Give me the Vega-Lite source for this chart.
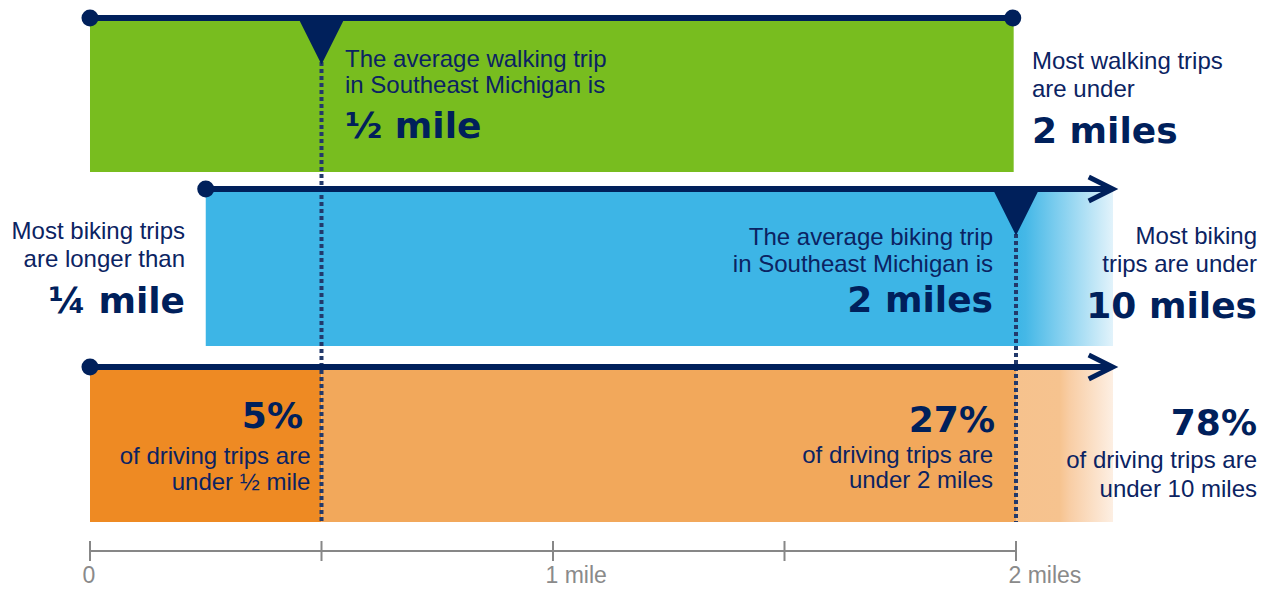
{
  "$schema": "https://vega.github.io/schema/vega-lite/v6.json",
  "width": 1268,
  "height": 551,
  "padding": {"left": 0, "top": 0, "right": 0, "bottom": 38},
  "autosize": {"type": "none"},
  "background": "white",
  "config": {"view": {"stroke": null}},
  "datasets": {
    "bars": [
      {"part": "walking", "mile": 0, "mile_end": 1.995, "level": 18, "level_end": 172},
      {"part": "biking", "mile": 0.25, "mile_end": 2.0, "level": 189, "level_end": 346},
      {"part": "driving under ½ mile", "mile": 0, "mile_end": 0.5, "level": 367, "level_end": 522},
      {"part": "driving under 2 miles", "mile": 0.5, "mile_end": 2.0, "level": 367, "level_end": 522}
    ],
    "tails": [
      {"mode": "biking", "mile": 2.0, "mile_end": 2.2095, "level": 189, "level_end": 346},
      {"mode": "driving", "mile": 2.0, "mile_end": 2.2095, "level": 367, "level_end": 522}
    ],
    "guides": [
      {"mile": 0.5, "level": 62, "level_end": 522},
      {"mile": 2.0, "level": 234, "level_end": 522}
    ],
    "tracks": [
      {"mode": "walking", "mile": 0, "mile_end": 1.995, "level": 18},
      {"mode": "biking", "mile": 0.25, "mile_end": 2.2, "level": 189},
      {"mode": "driving", "mile": 0, "mile_end": 2.2, "level": 367}
    ],
    "dots": [
      {"mode": "walking", "mile": 0, "level": 18},
      {"mode": "walking", "mile": 1.993, "level": 18},
      {"mode": "biking", "mile": 0.25, "level": 189},
      {"mode": "driving", "mile": 0, "level": 367}
    ],
    "arrows": [
      {"mode": "biking", "mile": 2.183, "level": 189},
      {"mode": "driving", "mile": 2.183, "level": 367}
    ],
    "averages": [
      {"mode": "walking", "mile": 0.5, "level": 40},
      {"mode": "biking", "mile": 2.0, "level": 211}
    ],
    "scale": [
      {"mile": 0, "mile_end": 2.0, "level": 551}
    ],
    "ticks": [
      {"mile": 0, "level": 541, "level_end": 561},
      {"mile": 0.5, "level": 541, "level_end": 561},
      {"mile": 1, "level": 541, "level_end": 561},
      {"mile": 1.5, "level": 541, "level_end": 561},
      {"mile": 2, "level": 541, "level_end": 561}
    ],
    "notes": [
      {"text": "The average walking trip", "mile": 0.5508, "level": 66.7, "role": "caption", "anchor": "start"},
      {"text": "in Southeast Michigan is", "mile": 0.5508, "level": 93.3, "role": "caption", "anchor": "start"},
      {"text": "½ mile", "mile": 0.5508, "level": 138.3, "role": "figure", "anchor": "start"},
      {"text": "Most walking trips", "mile": 2.0346, "level": 69.3, "role": "caption", "anchor": "start"},
      {"text": "are under", "mile": 2.0346, "level": 96.7, "role": "caption", "anchor": "start"},
      {"text": "2 miles", "mile": 2.0346, "level": 143.3, "role": "figure", "anchor": "start"},
      {"text": "Most biking trips", "mile": 0.2052, "level": 239.3, "role": "caption", "anchor": "end"},
      {"text": "are longer than", "mile": 0.2052, "level": 266.7, "role": "caption", "anchor": "end"},
      {"text": "¼ mile", "mile": 0.2052, "level": 313.3, "role": "figure", "anchor": "end"},
      {"text": "The average biking trip", "mile": 1.9503, "level": 245, "role": "caption", "anchor": "end"},
      {"text": "in Southeast Michigan is", "mile": 1.9503, "level": 271.7, "role": "caption", "anchor": "end"},
      {"text": "2 miles", "mile": 1.9503, "level": 311.7, "role": "figure", "anchor": "end"},
      {"text": "Most biking", "mile": 2.5205, "level": 244, "role": "caption", "anchor": "end"},
      {"text": "trips are under", "mile": 2.5205, "level": 271.7, "role": "caption", "anchor": "end"},
      {"text": "10 miles", "mile": 2.5205, "level": 318.3, "role": "figure", "anchor": "end"},
      {"text": "5%", "mile": 0.4600, "level": 428.3, "role": "figure", "anchor": "end"},
      {"text": "of driving trips are", "mile": 0.4762, "level": 464, "role": "caption", "anchor": "end"},
      {"text": "under ½ mile", "mile": 0.4762, "level": 490, "role": "caption", "anchor": "end"},
      {"text": "27%", "mile": 1.9546, "level": 431.7, "role": "figure", "anchor": "end"},
      {"text": "of driving trips are", "mile": 1.9503, "level": 463.3, "role": "caption", "anchor": "end"},
      {"text": "under 2 miles", "mile": 1.9503, "level": 488.3, "role": "caption", "anchor": "end"},
      {"text": "78%", "mile": 2.5205, "level": 435, "role": "figure", "anchor": "end"},
      {"text": "of driving trips are", "mile": 2.5205, "level": 468.3, "role": "caption", "anchor": "end"},
      {"text": "under 10 miles", "mile": 2.5205, "level": 496.7, "role": "caption", "anchor": "end"}
    ]
  },
  "layer": [
    {
      "data": {"name": "bars"},
      "mark": {"type": "rect"},
      "encoding": {
        "x": {"field": "mile", "type": "quantitative", "scale": {"domain": [-0.19438, 2.54428], "nice": false, "zero": false},
          "axis": {"title": null, "values": [0, 1, 2], "labelExpr": "datum.value == 0 ? '0' : datum.value == 1 ? '1 mile' : '2 miles'", "domain": false, "ticks": false, "tickSize": 0, "grid": false, "labelFont": "Liberation Sans", "labelFontSize": 23, "labelColor": "#8a8a8a", "labelAlign": "left", "labelOffset": -8, "labelBaseline": "alphabetic", "labelPadding": 31, "labelFlush": false, "labelOverlap": false}},
        "x2": {"field": "mile_end"},
        "y": {"field": "level", "type": "quantitative", "scale": {"domain": [0, 551], "reverse": true, "nice": false, "zero": false}, "axis": null},
        "y2": {"field": "level_end"},
        "color": {"field": "part", "type": "nominal", "legend": null,
          "scale": {"domain": ["walking", "biking", "driving under ½ mile", "driving under 2 miles"], "range": ["#78BD1F", "#3DB5E6", "#EE8A23", "#F2A85B"]}}
      }
    },
    {
      "data": {"name": "tails"},
      "transform": [{"filter": "datum.mode == 'biking'"}],
      "mark": {"type": "rect", "color": {"gradient": "linear", "x1": 0, "x2": 1, "y1": 0, "y2": 0, "stops": [{"offset": 0, "color": "#3DB5E6"}, {"offset": 0.1, "color": "#45B8E7"}, {"offset": 1, "color": "#E2F3FB"}]}},
      "encoding": {
        "x": {"field": "mile", "type": "quantitative"},
        "x2": {"field": "mile_end"},
        "y": {"field": "level", "type": "quantitative", "axis": null},
        "y2": {"field": "level_end"}
      }
    },
    {
      "data": {"name": "tails"},
      "transform": [{"filter": "datum.mode == 'driving'"}],
      "mark": {"type": "rect", "color": {"gradient": "linear", "x1": 0, "x2": 1, "y1": 0, "y2": 0, "stops": [{"offset": 0, "color": "#F6C28D"}, {"offset": 0.45, "color": "#F6C38F"}, {"offset": 0.55, "color": "#F8CDA4"}, {"offset": 1, "color": "#FDEFE3"}]}},
      "encoding": {
        "x": {"field": "mile", "type": "quantitative"},
        "x2": {"field": "mile_end"},
        "y": {"field": "level", "type": "quantitative", "axis": null},
        "y2": {"field": "level_end"}
      }
    },
    {
      "data": {"name": "guides"},
      "mark": {"type": "rule", "color": "#22396B", "strokeWidth": 4, "strokeDash": [4, 3]},
      "encoding": {
        "x": {"field": "mile", "type": "quantitative"},
        "y": {"field": "level", "type": "quantitative", "axis": null},
        "y2": {"field": "level_end"}
      }
    },
    {
      "data": {"name": "tracks"},
      "mark": {"type": "rule", "color": "#00205B", "strokeWidth": 6},
      "encoding": {
        "x": {"field": "mile", "type": "quantitative"},
        "x2": {"field": "mile_end"},
        "y": {"field": "level", "type": "quantitative", "axis": null}
      }
    },
    {
      "data": {"name": "dots"},
      "mark": {"type": "point", "shape": "circle", "filled": true, "color": "#00205B", "size": 290, "opacity": 1},
      "encoding": {
        "x": {"field": "mile", "type": "quantitative"},
        "y": {"field": "level", "type": "quantitative", "axis": null}
      }
    },
    {
      "data": {"name": "arrows"},
      "mark": {"type": "point", "shape": "M-1,-1L1,0L-1,1", "filled": false, "stroke": "#00205B", "strokeWidth": 5, "size": 576, "strokeJoin": "miter", "opacity": 1},
      "encoding": {
        "x": {"field": "mile", "type": "quantitative"},
        "y": {"field": "level", "type": "quantitative", "axis": null}
      }
    },
    {
      "data": {"name": "averages"},
      "mark": {"type": "point", "shape": "M-1,-1L1,-1L0,1Z", "filled": true, "color": "#00205B", "size": 2400, "opacity": 1},
      "encoding": {
        "x": {"field": "mile", "type": "quantitative"},
        "y": {"field": "level", "type": "quantitative", "axis": null}
      }
    },
    {
      "data": {"name": "scale"},
      "mark": {"type": "rule", "color": "#878787", "strokeWidth": 2},
      "encoding": {
        "x": {"field": "mile", "type": "quantitative"},
        "x2": {"field": "mile_end"},
        "y": {"field": "level", "type": "quantitative", "axis": null}
      }
    },
    {
      "data": {"name": "ticks"},
      "mark": {"type": "rule", "color": "#878787", "strokeWidth": 2},
      "encoding": {
        "x": {"field": "mile", "type": "quantitative"},
        "y": {"field": "level", "type": "quantitative", "axis": null},
        "y2": {"field": "level_end"}
      }
    },
    {
      "data": {"name": "notes"},
      "transform": [{"filter": "datum.role == 'caption' && datum.anchor == 'start'"}],
      "mark": {"type": "text", "align": "left", "baseline": "alphabetic", "font": "Liberation Sans", "fontSize": 24, "color": "#0B2362"},
      "encoding": {
        "x": {"field": "mile", "type": "quantitative"},
        "y": {"field": "level", "type": "quantitative", "axis": null},
        "text": {"field": "text"}
      }
    },
    {
      "data": {"name": "notes"},
      "transform": [{"filter": "datum.role == 'caption' && datum.anchor == 'end'"}],
      "mark": {"type": "text", "align": "right", "baseline": "alphabetic", "font": "Liberation Sans", "fontSize": 24, "color": "#0B2362"},
      "encoding": {
        "x": {"field": "mile", "type": "quantitative"},
        "y": {"field": "level", "type": "quantitative", "axis": null},
        "text": {"field": "text"}
      }
    },
    {
      "data": {"name": "notes"},
      "transform": [{"filter": "datum.role == 'figure' && datum.anchor == 'start'"}],
      "mark": {"type": "text", "align": "left", "baseline": "alphabetic", "font": "DejaVu Sans", "fontWeight": "bold", "fontSize": 36, "color": "#00205B"},
      "encoding": {
        "x": {"field": "mile", "type": "quantitative"},
        "y": {"field": "level", "type": "quantitative", "axis": null},
        "text": {"field": "text"}
      }
    },
    {
      "data": {"name": "notes"},
      "transform": [{"filter": "datum.role == 'figure' && datum.anchor == 'end'"}],
      "mark": {"type": "text", "align": "right", "baseline": "alphabetic", "font": "DejaVu Sans", "fontWeight": "bold", "fontSize": 36, "color": "#00205B"},
      "encoding": {
        "x": {"field": "mile", "type": "quantitative"},
        "y": {"field": "level", "type": "quantitative", "axis": null},
        "text": {"field": "text"}
      }
    }
  ]
}
